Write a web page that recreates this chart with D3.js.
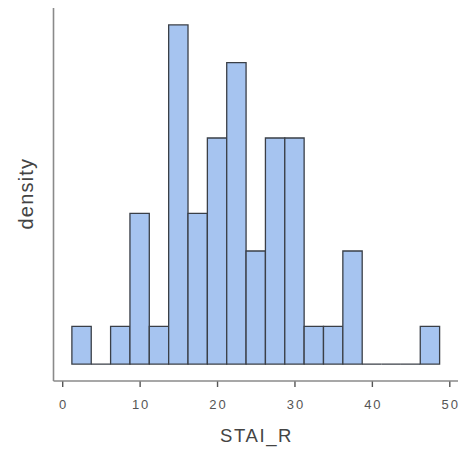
<!DOCTYPE html>
<html>
<head>
<meta charset="utf-8">
<script src="https://cdn.jsdelivr.net/npm/d3@7"></script>
<style>
  html, body { margin: 0; padding: 0; background: #fff; }
  svg { display: block; }
  text { font-family: "Liberation Sans", Arial, sans-serif; }
</style>
</head>
<body>
<svg id="chart" width="462" height="454"></svg>
<script>
// Histogram bins of STAI_R (lower edges, width 2.5) and their counts
const binEdges = [1.25, 3.75, 6.25, 8.75, 11.25, 13.75, 16.25, 18.75, 21.25, 23.75,
                  26.25, 28.75, 31.25, 33.75, 36.25, 38.75, 41.25, 43.75, 46.25, 48.75];
const binCounts = [1, 0, 1, 4, 1, 9, 4, 6, 8, 3, 6, 6, 1, 1, 3, 0, 0, 0, 1];
const xTickValues = [0, 10, 20, 30, 40, 50];
const xTitle = "STAI_R";
const yTitle = "density";

const total = d3.sum(binCounts);
const bins = binCounts.map((c, i) => {
  const x0 = binEdges[i], x1 = binEdges[i + 1];
  return { x0, x1, density: c / (total * (x1 - x0)) };
});

const svg = d3.select("#chart");
const panel = { left: 53.5, right: 458, top: 8, bottom: 381 };

// 5% expansion on both axes
const xLo = binEdges[0], xHi = binEdges[binEdges.length - 1];
const xPad = (xHi - xLo) * 0.05;
const x = d3.scaleLinear()
  .domain([xLo - xPad, xHi + xPad])
  .range([panel.left, panel.right]);

const dMax = d3.max(bins, d => d.density);
const y = d3.scaleLinear()
  .domain([-dMax * 0.05, dMax * 1.05])
  .range([panel.bottom, panel.top]);

// bars as closed paths so empty bins still show their baseline edge
svg.append("g")
  .selectAll("path")
  .data(bins)
  .join("path")
  .attr("d", d => {
    const l = x(d.x0), r = x(d.x1), t = y(d.density), b = y(0);
    return `M${l},${b}L${l},${t}L${r},${t}L${r},${b}Z`;
  })
  .attr("fill", "#a6c4f0")
  .attr("stroke", "#3a3f47")
  .attr("stroke-width", 1.3)
  .attr("stroke-linejoin", "miter");

// x axis
const tickSpacing = 2;
const xAxis = svg.append("g")
  .attr("transform", `translate(0,${panel.bottom})`)
  .call(d3.axisBottom(x).tickValues(xTickValues).tickSize(6).tickPadding(13));
xAxis.select(".domain").remove();
xAxis.append("line")
  .attr("x1", panel.left).attr("x2", panel.right)
  .attr("y1", 0).attr("y2", 0)
  .attr("stroke", "#8a8a8a").attr("stroke-width", 1.6);
xAxis.selectAll(".tick line").attr("stroke", "#555").attr("stroke-width", 1.4);
xAxis.selectAll(".tick text")
  .attr("fill", "#555")
  .attr("dx", tickSpacing / 2)
  .style("letter-spacing", tickSpacing + "px")
  .style("font-size", "13px");

// y axis (no ticks)
svg.append("line")
  .attr("x1", panel.left).attr("x2", panel.left)
  .attr("y1", panel.top).attr("y2", panel.bottom)
  .attr("stroke", "#8a8a8a").attr("stroke-width", 1.6);

// titles
svg.append("text")
  .attr("x", (panel.left + panel.right) / 2 + 0.8)
  .attr("y", 442)
  .attr("text-anchor", "middle")
  .attr("fill", "#444")
  .style("font-size", "18.5px")
  .style("letter-spacing", "1.6px")
  .text(xTitle);

svg.append("text")
  .attr("transform", `translate(32.5,${193 + 0.6}) rotate(-90)`)
  .attr("text-anchor", "middle")
  .attr("fill", "#444")
  .style("font-size", "20px")
  .style("letter-spacing", "1.2px")
  .text(yTitle);
</script>
</body>
</html>
